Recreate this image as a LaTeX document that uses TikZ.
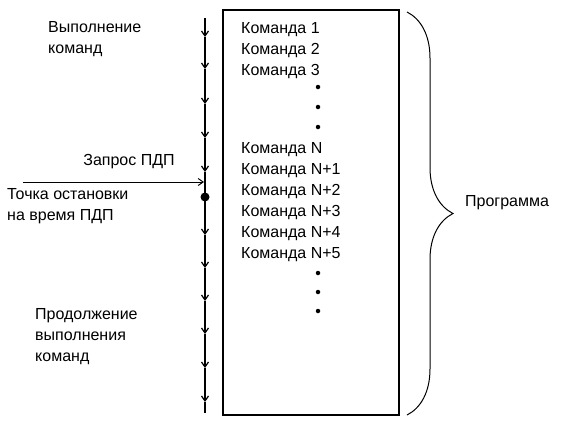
\documentclass[tikz,border=0pt]{standalone}
\usepackage{fontspec}
\setmainfont{Liberation Sans}
\usetikzlibrary{arrows.meta,positioning,decorations.pathreplacing}
\tikzset{
label/.style={inner sep=0pt,anchor=west,align=left,font=\fontsize{16}{21}\selectfont},
command/.style={inner sep=0pt,anchor=base west,font=\fontsize{16}{21}\selectfont},
ellipsis/.style={circle,fill,inner sep=0pt,minimum size=4.5pt},
stopdot/.style={circle,fill,inner sep=0pt,minimum size=9pt},
flow/.style={-{Straight Barb[length=5pt,width=7pt]},line width=1.2pt},
line/.style={line width=1.2pt},
request/.style={-{Straight Barb[length=5pt,width=7pt]},line width=1pt},
program/.style={draw,line width=1.5pt,inner sep=0pt,minimum width=176pt,minimum height=405pt},
bracket/.style={decorate,decoration={brace,amplitude=46pt},line width=1pt}
}
\begin{document}
\begin{tikzpicture}[x=1pt,y=-1pt]
\useasboundingbox (0,0) rectangle (563,426);
% execution line
\coordinate(t0) at (205,18);\coordinate(t1) at (205,37);\coordinate(t2) at (205,69);
\coordinate(t3) at (205,104);\coordinate(t4) at (205,138);\coordinate(t5) at (205,172);
\node[stopdot](st) at (205,197){};
\coordinate(t6) at (205,235);\coordinate(t7) at (205,268);\coordinate(t8) at (205,301);
\coordinate(t9) at (205,334);\coordinate(t10) at (205,368);\coordinate(t11) at (205,402);
\coordinate(tb) at (205,413);
\draw[flow](t0)--(t1);\draw[flow](t1)--(t2);\draw[flow](t2)--(t3);\draw[flow](t3)--(t4);\draw[flow](t4)--(t5);
\draw[line](t5)--(st.center);\draw[flow](st.center)--(t6);\draw[flow](t6)--(t7);\draw[flow](t7)--(t8);
\draw[flow](t8)--(t9);\draw[flow](t9)--(t10);\draw[flow](t10)--(t11);\draw[line](t11)--(tb);
% DMA request
\coordinate(rq) at (23,182);\coordinate(hit) at (204,182);
\draw[request](rq)--(hit);
\node[label](ex) at (48,39){Выполнение\\команд};
\node[label,anchor=center](dr) at (129,162){Запрос ПДП};
\node[label](bp) at (7,206){Точка остановки\\на время ПДП};
\node[label](cn) at (35,337){Продолжение\\выполнения\\команд};
% program
\node[program](p) at (311,212.5){};
\node[command](c1) at (241,33){Команда 1};
\node[command](c2) at (241,54){Команда 2};
\node[command](c3) at (241,75){Команда 3};
\node[ellipsis](e1) at (318,87){};\node[ellipsis](e2) at (318,107){};\node[ellipsis](e3) at (318,127){};
\node[command](n0) at (241,153){Команда N};
\node[command](n1) at (241,174){Команда N+1};
\node[command](n2) at (241,195){Команда N+2};
\node[command](n3) at (241,216){Команда N+3};
\node[command](n4) at (241,237){Команда N+4};
\node[command](n5) at (241,258){Команда N+5};
\node[ellipsis](e4) at (318,273){};\node[ellipsis](e5) at (318,292){};\node[ellipsis](e6) at (318,311){};
\coordinate(bt) at (407,12);\coordinate(bb) at (407,415);
\draw[bracket](bt)--(bb);
\node[label](pr) at (465,203){Программа};
\end{tikzpicture}
\end{document}
